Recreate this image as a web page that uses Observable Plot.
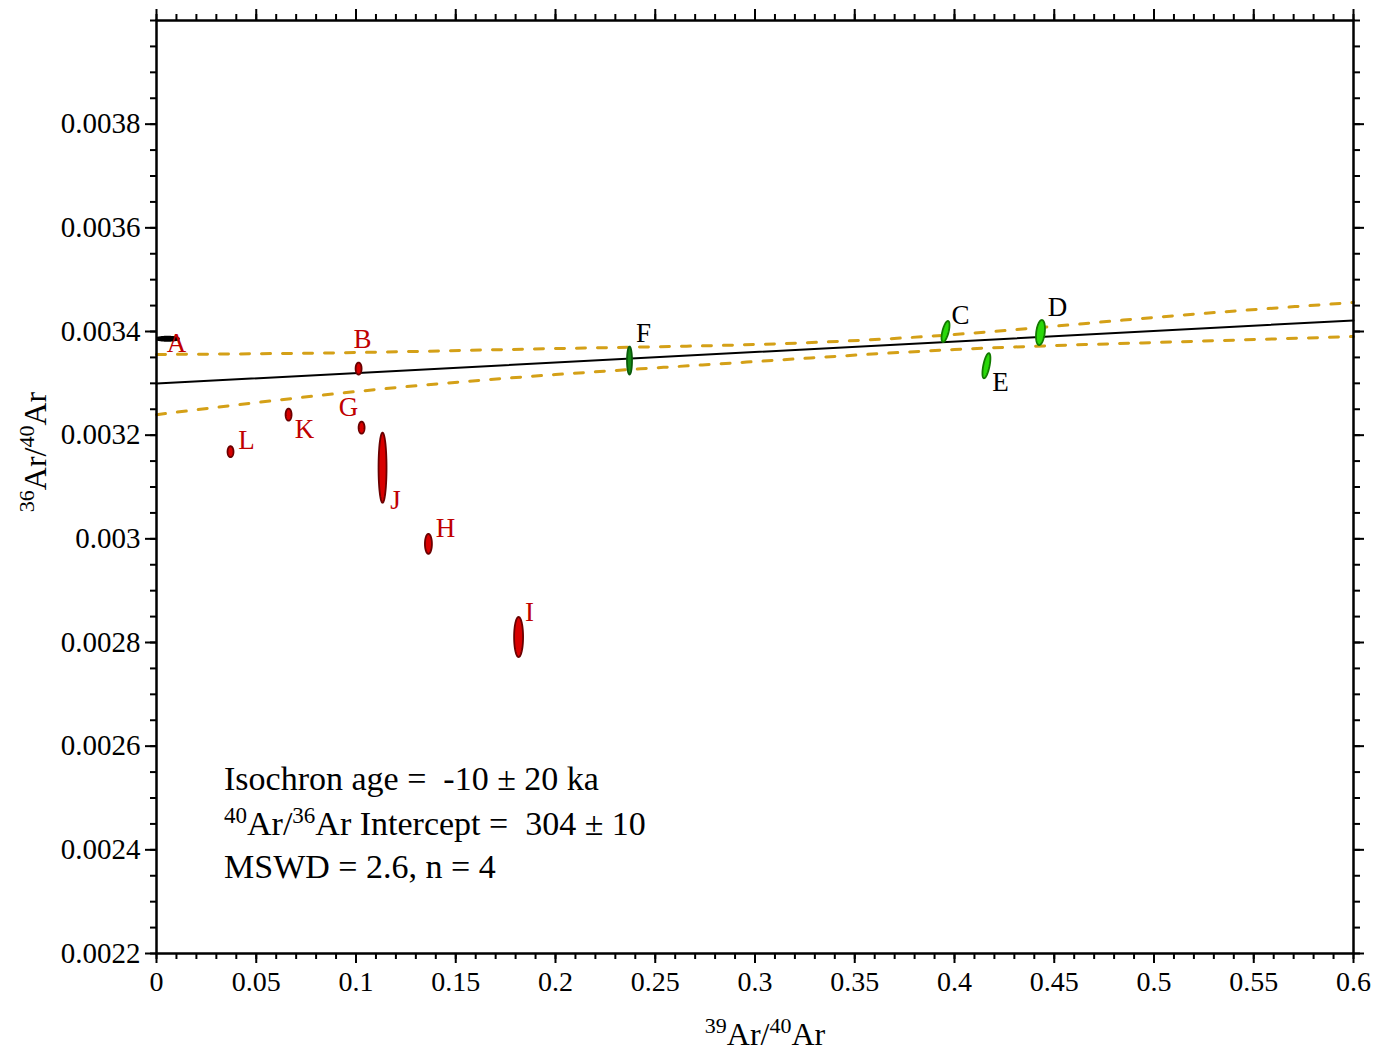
<!DOCTYPE html>
<html><head><meta charset="utf-8">
<script src="https://cdn.jsdelivr.net/npm/d3@7"></script>
<script src="https://cdn.jsdelivr.net/npm/@observablehq/plot@0.6"></script>
<style>
body{margin:0;background:#fff}
#chart svg{display:block}
#chart svg, #chart svg text{font-family:'Liberation Serif','Times New Roman',serif !important}
</style>
</head><body><div id="chart"></div>
<script>
// ---- data ----
const stepIds   = ["A","B","C","D","E","F","G","H","I","J","K","L"];
const ratio39   = [0.0055, 0.1013, 0.3955, 0.4431, 0.4160, 0.2371, 0.1028, 0.1363, 0.1815, 0.1133, 0.0662, 0.0371];
const ratio36   = [0.003386, 0.0033285, 0.003400, 0.003398, 0.003334, 0.003344, 0.0032145, 0.0029903, 0.0028106, 0.0031372, 0.0032396, 0.0031681];
const err39     = [0.0058, 0.0015, 0.0020, 0.00225, 0.0020, 0.00125, 0.0015, 0.00175, 0.00225, 0.0020, 0.0015, 0.0015];
const err36     = [0.000004, 0.0000116, 0.0000203, 0.0000242, 0.0000242, 0.000027, 0.0000116, 0.0000193, 0.0000387, 0.0000676, 0.0000116, 0.0000106];
const errCorr   = [0, 0, 0.6, 0.3, 0.6, 0, 0, 0, 0, 0, 0, 0];
const included  = ["C","D","E","F"];

const fitX      = [0, 0.6];
const fitY      = [0.0032995, 0.0034213];
const envX      = [0, 0.1, 0.2, 0.3, 0.4, 0.5, 0.6];
const envUpper  = [0.0033556, 0.0033594, 0.0033671, 0.0033749, 0.0033942, 0.0034271, 0.0034560];
const envLower  = [0.0032396, 0.0032841, 0.0033169, 0.0033420, 0.0033652, 0.0033787, 0.0033903];

const xTicks    = [0, 0.05, 0.1, 0.15, 0.2, 0.25, 0.3, 0.35, 0.4, 0.45, 0.5, 0.55, 0.6];
const yTicks    = [0.0022, 0.0024, 0.0026, 0.0028, 0.003, 0.0032, 0.0034, 0.0036, 0.0038];
const xMinor    = d3.range(0, 61).map(i => i / 100);
const yMinor    = d3.range(0, 37).map(i => 0.0022 + i * 0.00005);

// ---- styles ----
const SERIF = "'Liberation Serif', 'Times New Roman', serif";
const RED_TXT = "#c00000";
const GOLD = "#d4a017";
const style = {
  A: {fill: "#000", stroke: "#000"},
  F: {fill: "#168a16", stroke: "#0a5a0a"},
  green: {fill: "#2ad80a", stroke: "#127a00"},
  red: {fill: "#d80000", stroke: "#6a0000"}
};
const labelOffset = {
  A: [9, 5], B: [4, -29], C: [15, -16], D: [17, -25], E: [14, 17], F: [14, -27],
  G: [-13, -20], H: [17, -16], I: [11, -25], J: [13, 33], K: [16, 15], L: [16, -11]
};
const fmt = d => String(+d.toFixed(5));

// ellipse outlines from centre / half-axes / correlation
const ellipseMarks = stepIds.map((id, i) => {
  const pts = d3.range(0, 73).map(k => {
    const t = 2 * Math.PI * k / 72, r = errCorr[i];
    return {x: ratio39[i] + err39[i] * Math.cos(t),
            y: ratio36[i] + err36[i] * (r * Math.cos(t) + Math.sqrt(1 - r * r) * Math.sin(t))};
  });
  const s = id === "A" ? style.A : id === "F" ? style.F : included.includes(id) ? style.green : style.red;
  return Plot.line(pts, {x: "x", y: "y", curve: "linear-closed", fill: s.fill, stroke: s.stroke, strokeWidth: 1.8, clip: true});
});

const labelMarks = stepIds.map((id, i) => Plot.text([i], {
  x: j => ratio39[j], y: j => ratio36[j], text: () => id,
  dx: labelOffset[id][0], dy: labelOffset[id][1],
  fill: included.includes(id) ? "#000" : RED_TXT,
  fontSize: 27, fontFamily: SERIF, textAnchor: "middle", lineAnchor: "middle"
}));

const env = envX.map((x, i) => ({x, up: envUpper[i], lo: envLower[i]}));
const fit = fitX.map((x, i) => ({x, y: fitY[i]}));

const plot = Plot.plot({
  width: 1377, height: 1052,
  marginLeft: 156, marginRight: 24, marginTop: 20, marginBottom: 99,
  style: {fontFamily: SERIF, background: "white", color: "black"},
  x: {domain: [0, 0.6], label: null},
  y: {domain: [0.0022, 0.0040], label: null},
  marks: [
    Plot.line(env, {x: "x", y: "up", curve: "natural", stroke: GOLD, strokeWidth: 3, strokeDasharray: "9,12"}),
    Plot.line(env, {x: "x", y: "lo", curve: "natural", stroke: GOLD, strokeWidth: 3, strokeDasharray: "9,12"}),
    Plot.line(fit, {x: "x", y: "y", stroke: "black", strokeWidth: 2}),
    ...ellipseMarks,
    ...labelMarks,
    // bottom axis
    Plot.axisX({anchor: "bottom", ticks: xTicks, tickSize: 10, tickPadding: 8, tickFormat: fmt, fontSize: 28, fontFamily: SERIF, strokeWidth: 2, label: null}),
    Plot.axisX({anchor: "bottom", ticks: xMinor, tickSize: 6, tickFormat: () => "", strokeWidth: 2, label: null}),
    // top axis
    Plot.axisX({anchor: "top", ticks: xTicks, tickSize: 12, tickFormat: () => "", strokeWidth: 2, label: null}),
    Plot.axisX({anchor: "top", ticks: xMinor, tickSize: 7, tickFormat: () => "", strokeWidth: 2, label: null}),
    // left axis
    Plot.axisY({anchor: "left", ticks: yTicks, tickSize: 11, tickPadding: 5, tickFormat: fmt, fontSize: 29, fontFamily: SERIF, strokeWidth: 2, label: null}),
    Plot.axisY({anchor: "left", ticks: yMinor, tickSize: 6, tickFormat: () => "", strokeWidth: 2, label: null}),
    // right axis
    Plot.axisY({anchor: "right", ticks: yTicks, tickSize: 10, tickFormat: () => "", strokeWidth: 2, label: null}),
    Plot.axisY({anchor: "right", ticks: yMinor, tickSize: 6, tickFormat: () => "", strokeWidth: 2, label: null}),
    Plot.frame({stroke: "black", strokeWidth: 2.5})
  ]
});
document.getElementById("chart").appendChild(plot);

// ---- axis titles and annotation with true superscripts ----
const svg = d3.select(plot);
function rich(g, parts, size, supSize, anchor) {
  const t = g.append("text").attr("font-family", SERIF).attr("font-size", size).attr("fill", "black")
    .attr("text-anchor", anchor).style("white-space", "pre");
  let shifted = false;
  parts.forEach(([txt, sup]) => {
    const sp = t.append("tspan").text(txt);
    if (sup && !shifted) { sp.attr("dy", -size * 0.36).attr("font-size", supSize); shifted = true; }
    else if (!sup && shifted) { sp.attr("dy", size * 0.36); shifted = false; }
    else if (sup) sp.attr("font-size", supSize);
  });
  return t;
}
const xTitle = svg.append("g").attr("transform", "translate(765,1045)");
rich(xTitle, [["39", true], ["Ar/", false], ["40", true], ["Ar", false]], 32, 22, "middle");
const yTitle = svg.append("g").attr("transform", "translate(46,452) rotate(-90)");
rich(yTitle, [["36", true], ["Ar/", false], ["40", true], ["Ar", false]], 32, 22, "middle");

const note = svg.append("g");
rich(note, [["Isochron age =  -10 ± 20 ka", false]], 34, 23, "start").attr("x", 224).attr("y", 790);
rich(note, [["40", true], ["Ar/", false], ["36", true], ["Ar Intercept =  304 ± 10", false]], 34, 23, "start").attr("x", 224).attr("y", 835);
rich(note, [["MSWD = 2.6, n = 4", false]], 34, 23, "start").attr("x", 224).attr("y", 878);
</script>
</body></html>
